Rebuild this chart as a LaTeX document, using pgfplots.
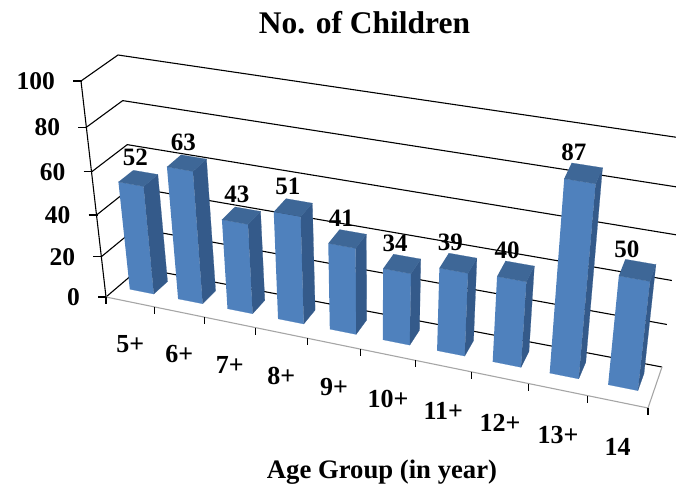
\documentclass[border=0pt]{standalone}
\usepackage{pgfplots}
\usepackage{pgfplotstable}
\usepackage{fontspec}
\pgfplotsset{compat=1.18}
\setmainfont{Liberation Serif}

% perspective spacing along the category and value directions
\pgfmathdeclarefunction{ftu}{1}{\pgfmathparse{#1/(1.127-0.127*#1)}}
\pgfmathdeclarefunction{ftw}{1}{\pgfmathparse{#1/(1.09-0.09*#1)}}
% projection of the chart box (u along categories, v in depth, w up) to the page
\pgfmathdeclarefunction{px}{3}{\begingroup
  \pgfmathsetmacro\U{ftu(#1)}\pgfmathsetmacro\W{ftw(#3)}\pgfmathsetmacro\V{#2}%
  \pgfmathparse{(1-\U)*((1-\V)*((1-\W)*106+\W*81)+\V*((1-\W)*140+\W*118))
               +\U*((1-\V)*((1-\W)*648+\W*675)+\V*((1-\W)*662+\W*688))}%
  \pgfmathsmuggle\pgfmathresult\endgroup}
\pgfmathdeclarefunction{py}{3}{\begingroup
  \pgfmathsetmacro\U{ftu(#1)}\pgfmathsetmacro\W{ftw(#3)}\pgfmathsetmacro\V{#2}%
  \pgfmathparse{(1-\U)*((1-\V)*((1-\W)*297+\W*81)+\V*((1-\W)*268+\W*55))
               +\U*((1-\V)*((1-\W)*408+\W*179)+\V*((1-\W)*367+\W*139))}%
  \pgfmathsmuggle\pgfmathresult\endgroup}

\pgfplotstableread{
idx value name
0 52 5+
1 63 6+
2 43 7+
3 51 8+
4 41 9+
5 34 10+
6 39 11+
7 40 12+
8 87 13+
9 50 14
}\children
\pgfplotstableread{
level pos
0 0
20 1
40 2
60 3
80 4
100 5
}\levels
% outlines of the walls and the floor edge
\pgfplotstableread{
u v
0 0
0 1
1 1
}\gridpath
\pgfplotstableread{
u v
0 0
1 0
1 1
}\flooredge
% corners of the three visible faces of a column
\pgfplotstableread{
a b c
0 0 0
1 0 0
1 0 1
0 0 1
}\frontface
\pgfplotstableread{
a b c
1 0 0
1 1 0
1 1 1
1 0 1
}\sideface
\pgfplotstableread{
a b c
0 0 1
1 0 1
1 1 1
0 1 1
}\topface
\pgfplotstableread{
d e
-8 0
1 1
}\vtick
\pgfplotstableread{
d e
0 0
7 1
}\htick

\definecolor{barfront}{RGB}{79,129,189}
\definecolor{barside}{RGB}{52,90,138}
\definecolor{bartop}{RGB}{62,103,151}

\newcommand{\barface}[4]{% face table, colour, category index, value
  \addplot[fill=#2,draw=#2,line width=0.2pt,mark=none] table[
    x expr={px((#3+0.25+0.5*\thisrow{a})/10,0.35+0.42*\thisrow{b},#4/100*\thisrow{c})},
    y expr={py((#3+0.25+0.5*\thisrow{a})/10,0.35+0.42*\thisrow{b},#4/100*\thisrow{c})}] {#1};}
\newcommand{\drawcolumn}[2]{%
  \barface{\frontface}{barfront}{#1}{#2}%
  \barface{\sideface}{barside}{#1}{#2}%
  \barface{\topface}{bartop}{#1}{#2}}

\begin{document}
\begin{tikzpicture}
\path[use as bounding box] (0,0) rectangle (676pt,484pt);
\begin{axis}[
  at={(0,0)},anchor=south west,
  scale only axis,width=676pt,height=484pt,
  xmin=0,xmax=676,ymin=0,ymax=484,y dir=reverse,
  axis lines=none,
  every axis plot/.append style={mark=none},
]
% grid lines on the side and back walls
\pgfplotsinvokeforeach{0,20,40,60,80,100}{
  \addplot[black,line width=1.1pt] table[
    x expr={px(\thisrow{u},\thisrow{v},#1/100)},
    y expr={py(\thisrow{u},\thisrow{v},#1/100)}] {\gridpath};
  \addplot[black,line width=1.1pt] table[
    x expr={px(0,0,#1/100)+\thisrow{d}},
    y expr={py(0,0,#1/100)}] {\vtick};
}
% value axis
\addplot[black,line width=1.1pt] table[
    x expr={px(0,0,\thisrow{level}/100)},
    y expr={py(0,0,\thisrow{level}/100)}] {\levels};
% front and right edges of the floor, category ticks
\addplot[black!35,line width=1.1pt] table[
    x expr={px(\thisrow{u},\thisrow{v},0)},
    y expr={py(\thisrow{u},\thisrow{v},0)}] {\flooredge};
\pgfplotsinvokeforeach{0,...,10}{
  \addplot[black,line width=1.1pt] table[
    x expr={px(#1/10,0,0)},
    y expr={py(#1/10,0,0)+\thisrow{d}}] {\htick};
}
% columns
\pgfplotsinvokeforeach{0,...,9}{
  \pgfplotstablegetelem{#1}{value}\of\children
  \edef\doit{\noexpand\drawcolumn{#1}{\pgfplotsretval}}\doit
}
% value axis numbers
\addplot[draw=none,point meta=explicit symbolic,
  nodes near coords,
  nodes near coords align={anchor=east},
  every node near coord/.append style={font=\fontsize{25.5}{25.5}\selectfont\bfseries,inner sep=0pt,text=black}]
  table[meta=level,
    x expr={px(0,0,\thisrow{level}/100)-26},
    y expr={py(0,0,\thisrow{level}/100)}] {\levels};
% category names
\addplot[draw=none,point meta=explicit symbolic,
  nodes near coords,
  nodes near coords align={anchor=center},
  every node near coord/.append style={font=\fontsize{26}{26}\selectfont\bfseries,inner sep=0pt,text=black}]
  table[meta=name,
    x expr={px((\thisrow{idx}+0.5)/10,0,0)},
    y expr={py((\thisrow{idx}+0.5)/10,0,0)+42+0.4*\thisrow{idx}}] {\children};
% column values
\addplot[draw=none,point meta=explicit symbolic,
  nodes near coords,
  nodes near coords align={anchor=center},
  every node near coord/.append style={font=\fontsize{25}{25}\selectfont\bfseries,inner sep=0pt,text=black}]
  table[meta=value,
    x expr={px((\thisrow{idx}+0.5)/10,0.77,\thisrow{value}/100)-10-0.4*\thisrow{idx}},
    y expr={py((\thisrow{idx}+0.5)/10,0.77,\thisrow{value}/100)-15+0.3*\thisrow{idx}}] {\children};
\node[font=\fontsize{31.5}{31.5}\selectfont\bfseries] at (axis cs:364.5,22.5) {No. of Children};
\node[font=\fontsize{26.7}{26.7}\selectfont\bfseries] at (axis cs:382,472) {Age Group (in year)};
\end{axis}
\end{tikzpicture}
\end{document}
